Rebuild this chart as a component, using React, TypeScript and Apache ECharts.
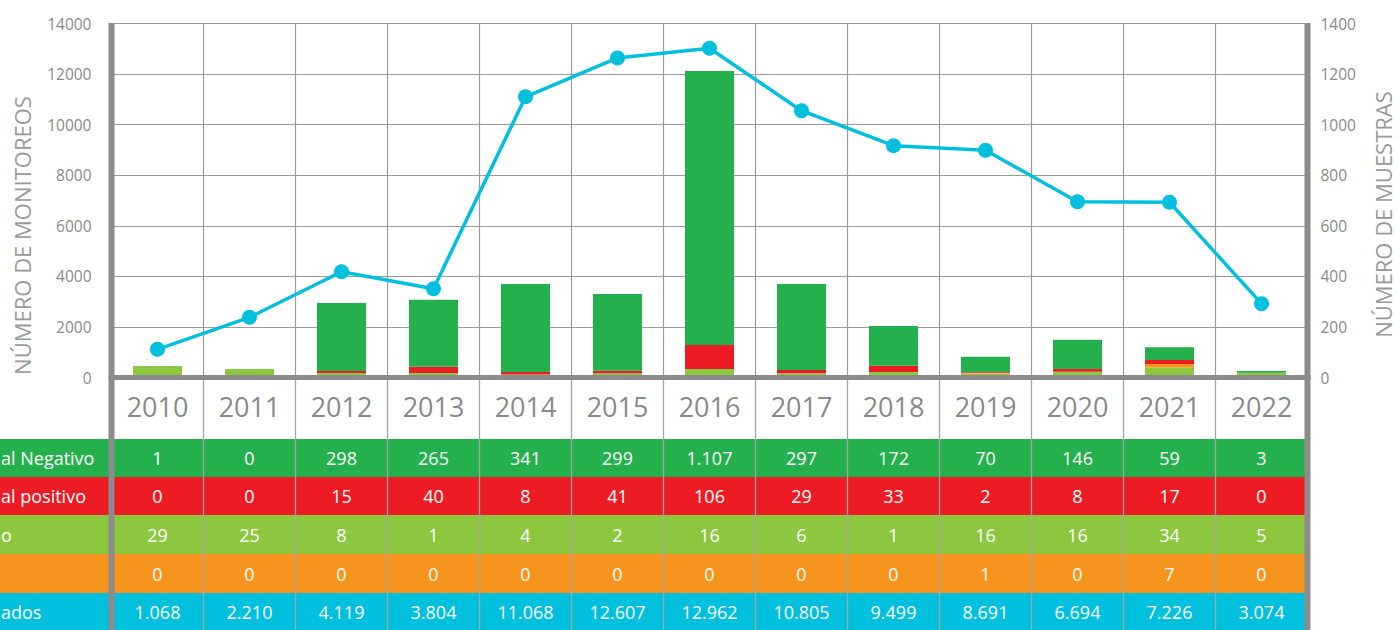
import React, { useEffect, useRef } from 'react';
import * as echarts from 'echarts';

const years = ['2010', '2011', '2012', '2013', '2014', '2015', '2016', '2017', '2018', '2019', '2020', '2021', '2022'];

// table rows (as printed)
const rowNegativo = ['1', '0', '298', '265', '341', '299', '1.107', '297', '172', '70', '146', '59', '3'];
const rowPositivo = ['0', '0', '15', '40', '8', '41', '106', '29', '33', '2', '8', '17', '0'];
const rowVerdeClaro = ['29', '25', '8', '1', '4', '2', '16', '6', '1', '16', '16', '34', '5'];
const rowNaranja = ['0', '0', '0', '0', '0', '0', '0', '0', '0', '1', '0', '7', '0'];
const rowMonitoreos = ['1.068', '2.210', '4.119', '3.804', '11.068', '12.607', '12.962', '10.805', '9.499', '8.691', '6.694', '7.226', '3.074'];

// bar segments (número de muestras, right axis)
const barVerdeClaro = [44, 34, 18, 18, 12, 17, 34, 17, 22, 16, 23, 40, 19];
const barNaranja = [0, 0, 0, 0, 0, 0, 0, 0, 0, 3, 0, 13, 0];
const barRojo = [0, 0, 8, 25, 10, 10, 95, 13, 24, 3, 11, 16, 0];
const barVerde = [1, 0, 269, 264, 348, 303, 1083, 340, 158, 60, 115, 51, 7];

// line (número de monitoreos, left axis)
const lineMonitoreos = [1115, 2380, 4180, 3510, 11100, 12640, 13020, 10550, 9170, 8990, 6950, 6930, 2920];

const leftTicksMax = 14000;
const rightTicksMax = 1400;

const GREEN = '#24B14D';
const RED = '#ED1C24';
const LGREEN = '#8DC63F';
const ORANGE = '#F7941D';
const CYAN = '#00C0DE';
const AXIS_GRAY = '#8C8C8C';
const GRID_GRAY = '#9C9C9C';
const LABEL_GRAY = '#8A8A8A';
const FONT = '"Open Sans", "Noto Sans", sans-serif';

const W = 1397;
const H = 630;
const GRID_LEFT = 111.5;
const GRID_RIGHT_X = 1307.5;
const GRID_TOP = 23.5;
const ZERO_Y = 377.5;

export default function App() {
  const ref = useRef<HTMLDivElement>(null);

  useEffect(() => {
    const chart = echarts.init(ref.current!, null, { renderer: 'svg' });
    const band = (GRID_RIGHT_X - GRID_LEFT) / years.length;

    const rows = [
      { color: GREEN, top: 439, bottom: 477, values: rowNegativo, label: 'al Negativo' },
      { color: RED, top: 477, bottom: 515, values: rowPositivo, label: 'al positivo' },
      { color: LGREEN, top: 515, bottom: 554, values: rowVerdeClaro, label: 'o' },
      { color: ORANGE, top: 554, bottom: 593, values: rowNaranja, label: '' },
      { color: CYAN, top: 593, bottom: 631, values: rowMonitoreos, label: 'ados' },
    ];

    const graphics: any[] = [];
    rows.forEach((r) => {
      graphics.push({
        type: 'rect',
        z: 1,
        shape: { x: 0, y: r.top, width: GRID_RIGHT_X - 2, height: r.bottom - r.top },
        style: { fill: r.color },
      });
      if (r.label) {
        graphics.push({
          type: 'text',
          z: 5,
          x: 1,
          y: (r.top + r.bottom) / 2,
          style: {
            text: r.label,
            fill: '#ffffff',
            fontSize: 18,
            fontFamily: FONT,
            align: 'left',
            verticalAlign: 'middle',
          },
        });
      }
    });
    for (let i = 1; i < years.length; i++) {
      const x = GRID_LEFT + i * band;
      graphics.push({
        type: 'line',
        z: 4,
        shape: { x1: x, y1: 380, x2: x, y2: 630 },
        style: { stroke: '#A5A5A5', lineWidth: 1.3 },
      });
    }
    // thick axis frames
    graphics.push({
      type: 'rect',
      z: 100,
      shape: { x: GRID_LEFT - 3, y: ZERO_Y - 2.5, width: GRID_RIGHT_X - GRID_LEFT + 6, height: 5 },
      style: { fill: AXIS_GRAY },
    });
    graphics.push({
      type: 'rect',
      z: 100,
      shape: { x: GRID_LEFT - 3, y: 23, width: 6, height: 607 },
      style: { fill: AXIS_GRAY },
    });
    graphics.push({
      type: 'rect',
      z: 100,
      shape: { x: GRID_RIGHT_X - 3, y: 23, width: 6, height: 607 },
      style: { fill: AXIS_GRAY },
    });
    graphics.push({
      type: 'text',
      z: 5,
      x: 22,
      y: 235.5,
      rotation: Math.PI / 2,
      style: {
        text: 'NÚMERO DE MONITOREOS',
        fill: '#9A9A9A',
        fontSize: 22,
        lineHeight: 22,
        fontFamily: FONT,
        align: 'center',
        verticalAlign: 'middle',
      },
    });
    graphics.push({
      type: 'text',
      z: 5,
      x: 1383,
      y: 214.5,
      rotation: Math.PI / 2,
      style: {
        text: 'NÚMERO DE MUESTRAS',
        fill: '#9A9A9A',
        fontSize: 22,
        lineHeight: 22,
        fontFamily: FONT,
        align: 'center',
        verticalAlign: 'middle',
      },
    });

    const tableAxes = rows.map((r) => ({
      type: 'category',
      gridIndex: 0,
      position: 'bottom',
      offset: (r.top + r.bottom) / 2 - ZERO_Y,
      data: r.values,
      z: 50,
      axisLine: { show: false },
      axisTick: { show: false },
      splitLine: { show: false },
      axisLabel: {
        interval: 0,
        margin: 0,
        color: '#ffffff',
        fontSize: 18,
        fontFamily: FONT,
        verticalAlign: 'middle',
      },
    }));

    const barBase = {
      type: 'bar',
      stack: 'muestras',
      yAxisIndex: 1,
      xAxisIndex: 0,
      barWidth: 49,
      z: 2,
    };

    chart.setOption({
      animation: false,
      textStyle: { fontFamily: FONT },
      grid: {
        left: GRID_LEFT,
        right: W - GRID_RIGHT_X,
        top: GRID_TOP,
        height: ZERO_Y - GRID_TOP,
        containLabel: false,
      },
      xAxis: [
        {
          type: 'category',
          data: years,
          boundaryGap: true,
          axisLine: { show: false },
          axisTick: { show: false },
          splitLine: { show: true, interval: 0, lineStyle: { color: GRID_GRAY, width: 1.2 } },
          axisLabel: {
            interval: 0,
            margin: 29,
            color: LABEL_GRAY,
            fontSize: 27,
            fontFamily: FONT,
            verticalAlign: 'middle',
          },
        },
        ...tableAxes,
      ],
      yAxis: [
        {
          type: 'value',
          min: 0,
          max: leftTicksMax,
          interval: 2000,
          axisLine: { show: false },
          axisTick: { show: false },
          splitLine: { show: true, lineStyle: { color: GRID_GRAY, width: 1.2 } },
          axisLabel: {
            margin: 20,
            color: LABEL_GRAY,
            fontSize: 15.5,
            fontFamily: FONT,
            formatter: (v: number) => String(v),
          },
        },
        {
          type: 'value',
          min: 0,
          max: rightTicksMax,
          interval: 200,
          position: 'right',
          axisLine: { show: false },
          axisTick: { show: false },
          splitLine: { show: false },
          axisLabel: {
            margin: 13,
            color: LABEL_GRAY,
            fontSize: 15.5,
            fontFamily: FONT,
            formatter: (v: number) => String(v),
          },
        },
      ],
      series: [
        { ...barBase, name: 'verde claro', data: barVerdeClaro, itemStyle: { color: LGREEN } },
        { ...barBase, name: 'naranja', data: barNaranja, itemStyle: { color: ORANGE } },
        { ...barBase, name: 'positivo', data: barRojo, itemStyle: { color: RED } },
        { ...barBase, name: 'negativo', data: barVerde, itemStyle: { color: GREEN } },
        {
          type: 'line',
          name: 'monitoreos',
          xAxisIndex: 0,
          yAxisIndex: 0,
          data: lineMonitoreos,
          z: 10,
          symbol: 'circle',
          symbolSize: 15,
          lineStyle: { color: CYAN, width: 3.5 },
          itemStyle: { color: CYAN },
        },
      ],
      graphic: { elements: graphics },
    });

    return () => chart.dispose();
  }, []);

  return (
    <div
      ref={ref}
      style={{ position: 'fixed', left: 0, top: 0, width: W, height: H, background: '#ffffff' }}
    />
  );
}
